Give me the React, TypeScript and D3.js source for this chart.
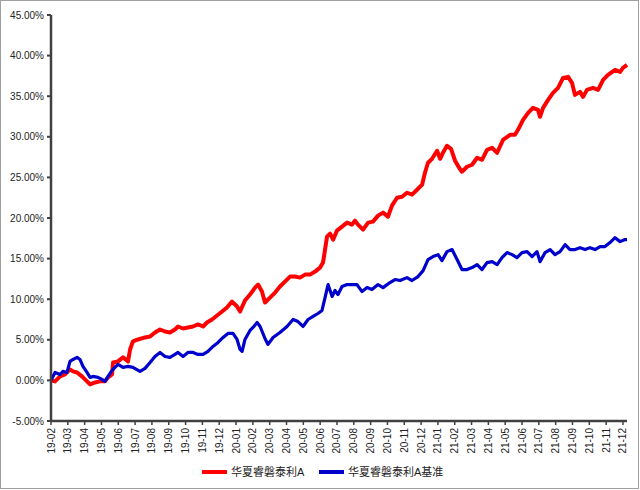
import React from "react";
import * as d3 from "d3";

// x: months since 2019-02 (0 = 19-02), values in %
const monthLabels = [
  "19-02","19-03","19-04","19-05","19-06","19-07","19-08","19-09","19-10","19-11","19-12",
  "20-01","20-02","20-03","20-04","20-05","20-06","20-07","20-08","20-09","20-10","20-11","20-12",
  "21-01","21-02","21-03","21-04","21-05","21-06","21-07","21-08","21-09","21-10","21-11","21-12",
];
const yTicks = [-5, 0, 5, 10, 15, 20, 25, 30, 35, 40, 45];

const fundT = [0,0.24,0.54,0.83,1.13,1.31,1.55,1.84,2.14,2.32,2.62,2.91,3.21,3.39,3.63,3.69,3.98,4.28,4.58,4.70,4.87,5.17,5.59,5.89,6.18,6.48,6.78,7.07,7.37,7.55,7.85,8.14,8.44,8.74,9.04,9.27,9.57,9.87,10.17,10.46,10.76,11.06,11.24,11.53,11.83,12.13,12.31,12.54,12.72,13.02,13.32,13.61,13.91,14.21,14.51,14.80,15.10,15.40,15.70,15.99,16.17,16.29,16.41,16.59,16.77,17.00,17.30,17.60,17.89,18.07,18.25,18.55,18.85,19.14,19.44,19.74,20.03,20.27,20.57,20.87,21.16,21.46,21.76,22.06,22.23,22.41,22.65,22.95,23.13,23.30,23.54,23.78,24.02,24.26,24.43,24.73,25.03,25.33,25.62,25.92,26.22,26.52,26.87,27.29,27.58,27.76,28.06,28.36,28.65,28.95,29.07,29.25,29.55,29.84,30.14,30.44,30.74,30.97,31.15,31.45,31.63,31.86,32.22,32.52,32.82,33.11,33.53,33.83,34.00,34.24];
const fundV = [0,-0.12,0.49,0.74,1.35,1.11,0.98,0.49,-0.12,-0.49,-0.25,-0.12,-0.12,0.37,0.74,2.21,2.34,2.83,2.34,3.81,4.80,5.04,5.29,5.41,5.90,6.27,6.02,5.90,6.27,6.64,6.39,6.52,6.64,6.89,6.64,7.13,7.50,7.99,8.48,8.98,9.71,9.10,8.48,9.84,10.57,11.43,11.80,10.94,9.59,10.20,10.82,11.56,12.17,12.79,12.79,12.66,13.03,13.03,13.40,13.89,14.51,16.11,17.70,18.07,17.34,18.44,18.93,19.43,19.18,19.67,19.18,18.57,19.43,19.55,20.29,20.66,20.16,21.52,22.50,22.62,23.11,22.87,23.48,24.10,25.57,26.80,27.29,28.28,27.29,28.03,28.89,28.52,27.05,26.19,25.70,26.31,26.56,27.42,27.17,28.40,28.65,28.03,29.63,30.25,30.25,30.86,32.09,32.95,33.57,33.32,32.46,33.57,34.55,35.41,36.02,37.25,37.38,36.64,35.16,35.53,34.92,35.78,36.02,35.78,37.01,37.62,38.24,37.99,38.48,38.85];

const benchT = [0,0.24,0.54,0.71,0.95,1.13,1.31,1.55,1.72,1.90,2.14,2.32,2.50,2.79,3.03,3.21,3.39,3.63,3.80,3.98,4.28,4.58,4.87,5.29,5.59,5.89,6.18,6.48,6.78,7.07,7.37,7.55,7.85,8.14,8.44,8.74,9.04,9.33,9.63,9.93,10.23,10.52,10.82,11.06,11.24,11.36,11.53,11.83,12.01,12.25,12.43,12.72,12.90,13.20,13.61,14.03,14.39,14.68,14.98,15.28,15.58,15.87,16.11,16.29,16.47,16.71,16.88,17.06,17.30,17.60,17.89,18.19,18.49,18.79,19.08,19.44,19.74,20.15,20.45,20.75,21.16,21.46,21.82,22.12,22.41,22.71,23.01,23.24,23.54,23.84,24.14,24.43,24.73,25.03,25.33,25.62,25.92,26.22,26.52,26.81,27.11,27.41,27.70,28.00,28.30,28.60,28.89,29.07,29.37,29.67,29.96,30.26,30.56,30.85,31.15,31.45,31.75,32.04,32.34,32.64,32.93,33.23,33.53,33.83,34.12,34.24];
const benchV = [0,0.98,0.74,1.11,0.98,2.34,2.58,2.83,2.58,1.72,0.98,0.37,0.49,0.37,0.12,-0.12,0.49,1.23,1.60,1.97,1.60,1.72,1.60,1.11,1.48,2.21,2.95,3.44,2.95,2.83,3.20,3.44,2.95,3.44,3.44,3.20,3.20,3.57,4.18,4.67,5.29,5.78,5.78,5.04,3.81,3.57,5.04,6.15,6.52,7.13,6.64,5.16,4.43,5.29,5.90,6.64,7.50,7.25,6.64,7.50,7.87,8.24,8.61,10.20,11.80,10.33,11.07,10.57,11.56,11.80,11.80,11.80,10.94,11.43,11.19,11.80,11.43,12.05,12.42,12.30,12.66,12.30,12.79,13.52,14.88,15.25,15.49,14.75,15.86,16.11,14.88,13.65,13.65,13.89,14.26,13.65,14.51,14.63,14.26,15.12,15.74,15.49,15.12,15.74,15.86,15.25,15.86,14.63,15.74,16.11,15.49,15.86,16.72,16.11,16.11,16.35,16.11,16.35,16.11,16.48,16.48,16.97,17.58,17.09,17.34,17.34];

const seriesNames = ["华夏睿磐泰利A", "华夏睿磐泰利A基准"];

const FONT = "'Liberation Sans', Arial, 'Noto Sans CJK SC', sans-serif";

export default function App() {
  const W = 640, H = 490;
  const left = 51, right = 627, top = 15, bottom = 421;
  const x = d3.scaleLinear().domain([0, 34.24]).range([left, right]);
  const y = d3.scaleLinear().domain([-5, 45]).range([bottom, top]);

  const fundData = fundT.map((t, i) => [t, fundV[i]] as [number, number]);
  const benchData = benchT.map((t, i) => [t, benchV[i]] as [number, number]);
  const line = d3.line<[number, number]>().x(d => x(d[0])).y(d => y(d[1]));

  return (
    <svg width={W} height={H} style={{ position: "absolute", left: 0, top: 0, background: "#fff" }}>
      <rect x={0.5} y={0.5} width={638} height={488} fill="#fff" stroke="#a0a0a0" strokeWidth={1} />
      {yTicks.map(v => (
        <g key={v}>
          <line x1={left - 4} x2={left} y1={y(v)} y2={y(v)} stroke="#404040" strokeWidth={2} />
          <text x={left - 7} y={y(v)} dy="0.35em" textAnchor="end" fontSize={10} fontFamily={FONT} fill="#222">
            {v.toFixed(2) + "%"}
          </text>
        </g>
      ))}
      {monthLabels.map((m, i) => (
        <g key={m}>
          <line x1={x(i)} x2={x(i)} y1={bottom} y2={bottom + 4} stroke="#404040" strokeWidth={1.5} />
          <text
            transform={`translate(${x(i)},${bottom + 7}) rotate(-90)`}
            textAnchor="end"
            dy="0.35em"
            fontSize={10}
            fontFamily={FONT}
            fill="#222"
          >
            {m}
          </text>
        </g>
      ))}
      <path d={line(fundData) || ""} fill="none" stroke="#ff0000" strokeWidth={4} strokeLinejoin="round" />
      <path d={line(benchData) || ""} fill="none" stroke="#0000cc" strokeWidth={3.2} strokeLinejoin="round" />
      <line x1={left} x2={left} y1={top} y2={bottom} stroke="#404040" strokeWidth={2.5} />
      <line x1={left} x2={right} y1={bottom} y2={bottom} stroke="#404040" strokeWidth={2.5} />
      <line x1={202} x2={227} y1={472} y2={472} stroke="#ff0000" strokeWidth={4} />
      <text x={231} y={472} dy="0.35em" fontSize={11} fontFamily={FONT} fill="#222">{seriesNames[0]}</text>
      <line x1={319} x2={344} y1={472} y2={472} stroke="#0000cc" strokeWidth={4} />
      <text x={348} y={472} dy="0.35em" fontSize={11} fontFamily={FONT} fill="#222">{seriesNames[1]}</text>
    </svg>
  );
}
